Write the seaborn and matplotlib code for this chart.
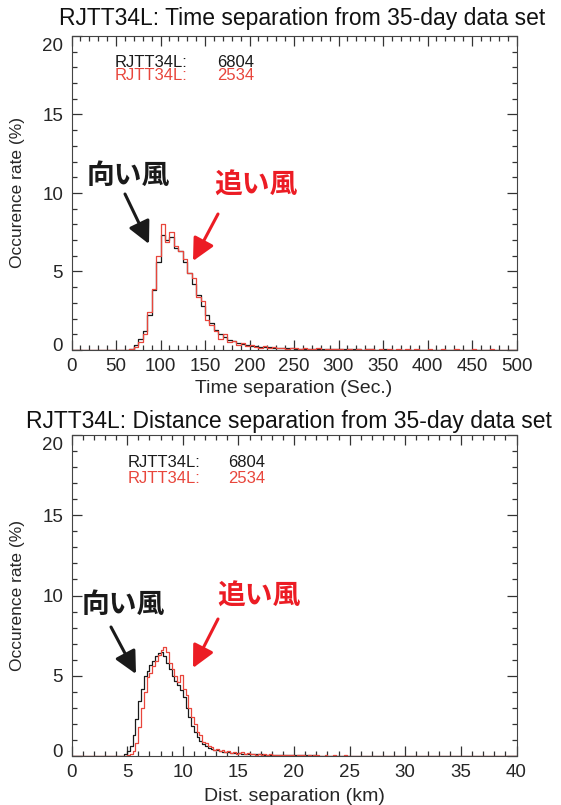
import numpy as np
import pandas as pd
import matplotlib
matplotlib.use("Agg")
import matplotlib.pyplot as plt
from matplotlib.ticker import MultipleLocator
from matplotlib.transforms import ScaledTranslation
import seaborn as sns

# ---- data (occurrence rate in %, per bin) ----
time_bin = 5.0      # sec
dist_bin = 0.25     # km

time_black = np.array(
    [0.0] * 12 +
    [0.02, 0.08, 0.3, 0.7, 1.2, 2.2, 3.8, 5.6, 7.3, 7.0,
     7.2, 6.5, 6.3, 5.6, 4.9, 4.2, 3.5, 2.8, 2.2, 1.7,
     1.3, 1.0, 0.8, 0.65, 0.55, 0.45, 0.38, 0.32, 0.28, 0.24,
     0.21, 0.18, 0.16, 0.14, 0.13, 0.12, 0.11, 0.10] +
    [0.09, 0.08, 0.08, 0.07, 0.07, 0.06, 0.06, 0.06, 0.05, 0.05] +
    [0.05, 0.04, 0.05, 0.04, 0.04, 0.03, 0.04, 0.04, 0.03, 0.03,
     0.04, 0.03, 0.03, 0.02, 0.03, 0.03, 0.02, 0.03, 0.02, 0.02,
     0.03, 0.02, 0.02, 0.02, 0.03, 0.02, 0.02, 0.01, 0.02, 0.02,
     0.02, 0.01, 0.02, 0.01, 0.02, 0.01, 0.01, 0.02, 0.01, 0.01])

time_red = np.array(
    [0.0] * 12 +
    [0.0, 0.05, 0.2, 0.5, 1.0, 2.4, 3.9, 6.0, 8.0, 6.9,
     7.5, 6.6, 6.3, 5.8, 4.9, 4.6, 3.4, 3.1, 1.9, 1.6,
     1.2, 0.7, 1.0, 0.5, 0.6, 0.35, 0.45, 0.25, 0.35, 0.2,
     0.15, 0.25, 0.1, 0.2, 0.1, 0.15, 0.05, 0.12] +
    [0.1, 0.05, 0.12, 0.04, 0.08, 0.1, 0.03, 0.06, 0.08, 0.04] +
    [0.06, 0.02, 0.07, 0.03, 0.05, 0.02, 0.06, 0.04, 0.02, 0.05,
     0.03, 0.06, 0.02, 0.04, 0.03, 0.05, 0.01, 0.04, 0.03, 0.02,
     0.05, 0.02, 0.03, 0.04, 0.01, 0.03, 0.05, 0.02, 0.03, 0.01,
     0.04, 0.02, 0.03, 0.01, 0.04, 0.02, 0.01, 0.03, 0.02, 0.02])

dist_black = np.array(
    [0.0] * 18 +
    [0.02, 0.1, 0.3, 0.6, 1.3, 2.3, 3.4, 4.2, 5.0, 5.3,
     5.7, 5.9, 6.2, 6.4, 6.5, 6.2, 5.8, 5.4, 5.0, 4.7,
     4.4, 4.1, 3.7, 3.0, 2.4, 1.9, 1.5, 1.2, 0.95, 0.75,
     0.6, 0.5, 0.45, 0.4, 0.35, 0.3, 0.28, 0.25, 0.22, 0.2,
     0.18, 0.17, 0.16] +
    [0.15, 0.14, 0.13, 0.12, 0.12, 0.11, 0.10, 0.10, 0.09, 0.09,
     0.08, 0.08, 0.07, 0.07, 0.07, 0.06, 0.06, 0.06, 0.05, 0.05,
     0.05, 0.05, 0.04, 0.04, 0.04, 0.04, 0.04, 0.03, 0.03, 0.03,
     0.03, 0.03, 0.03, 0.03, 0.02, 0.03, 0.02, 0.02, 0.02, 0.02,
     0.02, 0.02, 0.02, 0.02, 0.02, 0.01, 0.02, 0.02, 0.01, 0.02,
     0.01, 0.02, 0.01, 0.01, 0.02, 0.01, 0.01, 0.01, 0.02, 0.01,
     0.01, 0.01, 0.01, 0.02, 0.01, 0.01, 0.01, 0.01, 0.01, 0.01,
     0.01, 0.01, 0.01, 0.01, 0.01, 0.01, 0.01, 0.01, 0.01, 0.01,
     0.01, 0.01, 0.01, 0.01, 0.01, 0.01, 0.01, 0.01, 0.01, 0.01,
     0.01, 0.01, 0.01, 0.01, 0.01, 0.01, 0.01, 0.01, 0.01])

dist_red = np.array(
    [0.0] * 19 +
    [0.02, 0.05, 0.1, 0.3, 0.8, 1.8, 3.0, 4.0, 4.9, 5.2,
     5.6, 5.9, 6.3, 6.6, 6.8, 6.5, 5.8, 5.4, 5.0, 4.6,
     5.05, 4.2, 3.8, 3.0, 2.4, 2.0, 1.5, 1.3, 0.9, 0.8,
     0.6, 0.55, 0.4, 0.45, 0.3, 0.35, 0.25, 0.3, 0.2, 0.25,
     0.15, 0.2] +
    [0.25, 0.12, 0.18, 0.1, 0.15, 0.08, 0.14, 0.09, 0.12, 0.06,
     0.1, 0.07, 0.09, 0.05, 0.08, 0.06, 0.04, 0.07, 0.05, 0.03,
     0.06, 0.04, 0.05, 0.03, 0.05, 0.02, 0.04, 0.05, 0.02, 0.03,
     0.04, 0.02, 0.03, 0.04, 0.01, 0.03, 0.02, 0.04, 0.02, 0.01,
     0.03, 0.02, 0.03, 0.01, 0.02, 0.03, 0.01, 0.02, 0.03, 0.01,
     0.02, 0.01, 0.03, 0.02, 0.01, 0.02, 0.03, 0.01, 0.02, 0.01,
     0.02, 0.01, 0.02, 0.01, 0.03, 0.01, 0.02, 0.01, 0.01, 0.02,
     0.01, 0.02, 0.01, 0.01, 0.02, 0.01, 0.01, 0.02, 0.01, 0.01,
     0.02, 0.01, 0.01, 0.01, 0.02, 0.01, 0.01, 0.01, 0.01, 0.02,
     0.01, 0.01, 0.01, 0.01, 0.01, 0.02, 0.01, 0.01, 0.01])

counts = [6804, 2534]
runway = "RJTT34L:"
titles = ["RJTT34L: Time separation from 35-day data set",
          "RJTT34L: Distance separation from 35-day data set"]
xlabels = ["Time separation (Sec.)", "Dist. separation (km)"]
ylabel = "Occurence rate (%)"
headwind = "向い風"
tailwind = "追い風"

BLACK = "#1a1a1a"
RED = "#e8463c"
RED_NOTE = "#ec1c24"

sns.set_style("white")
plt.rcParams['font.family'] = ['Liberation Sans', 'Noto Sans CJK JP']

W, H = 561, 805
fig = plt.figure(figsize=(W / 100, H / 100), dpi=100)


def fx(px):
    return px / W


def fy(py):
    return 1 - py / H


def draw_panel(ax, values, binw, xmax, major, minor):
    edges = np.arange(0, xmax + binw / 2, binw)
    centers = edges[:-1] + binw / 2
    for vals, col in zip(values, [BLACK, RED]):
        df = pd.DataFrame({"x": centers, "w": vals})
        sns.histplot(data=df, x="x", weights="w", bins=list(edges), element="step",
                     fill=False, color=col, linewidth=0.9, ax=ax)
    ax.set_xlim(0, xmax)
    ax.set_ylim(0, 20)
    ax.xaxis.set_major_locator(MultipleLocator(major))
    ax.xaxis.set_minor_locator(MultipleLocator(minor))
    ax.yaxis.set_major_locator(MultipleLocator(5))
    ax.yaxis.set_minor_locator(MultipleLocator(1))
    ax.tick_params(which="both", direction="in", bottom=True, left=True,
                   top=True, right=True, color="#333333", labelsize=13.5,
                   width=0.9)
    ax.tick_params(which="major", length=7, pad=6)
    ax.tick_params(which="minor", length=3.5)
    for s in ax.spines.values():
        s.set_color("#444444")
        s.set_linewidth(0.8)
    # IDL-like nudging of the end labels inward
    for val, tick in zip(ax.get_yticks(), ax.yaxis.get_major_ticks()):
        if val == 20:
            dy = -6 / 72
        elif val == 0:
            dy = 4 / 72
        else:
            continue
        tick.label1.set_transform(tick.label1.get_transform() +
                                  ScaledTranslation(0, dy, fig.dpi_scale_trans))


# top panel: time separation
ax1 = fig.add_axes([fx(71.5), fy(350), fx(445), 314 / H])
draw_panel(ax1, [time_black, time_red], time_bin, 500, 50, 10)
ax1.set_xlabel(xlabels[0], fontsize=14)
ax1.set_ylabel(ylabel, fontsize=12.5)
ax1.xaxis.set_label_coords(0.5, -0.095)
ax1.yaxis.set_label_coords(-0.105, 0.5)
ax1.text(0.098, 0.917, runway, transform=ax1.transAxes, color=BLACK, fontsize=12, va="center")
ax1.text(0.327, 0.917, str(counts[0]), transform=ax1.transAxes, color=BLACK, fontsize=12, va="center")
ax1.text(0.098, 0.873, runway, transform=ax1.transAxes, color=RED, fontsize=12, va="center")
ax1.text(0.327, 0.873, str(counts[1]), transform=ax1.transAxes, color=RED, fontsize=12, va="center")

# bottom panel: distance separation
ax2 = fig.add_axes([fx(71.5), fy(756), fx(445), 321 / H])
draw_panel(ax2, [dist_black, dist_red], dist_bin, 40, 5, 1)
ax2.set_xlabel(xlabels[1], fontsize=14)
ax2.set_ylabel(ylabel, fontsize=12.5)
ax2.xaxis.set_label_coords(0.5, -0.1)
ax2.yaxis.set_label_coords(-0.105, 0.5)
ax2.text(0.127, 0.913, runway, transform=ax2.transAxes, color=BLACK, fontsize=12, va="center")
ax2.text(0.352, 0.913, str(counts[0]), transform=ax2.transAxes, color=BLACK, fontsize=12, va="center")
ax2.text(0.127, 0.863, runway, transform=ax2.transAxes, color=RED, fontsize=12, va="center")
ax2.text(0.352, 0.863, str(counts[1]), transform=ax2.transAxes, color=RED, fontsize=12, va="center")

# titles
fig.text(fx(302), fy(18), titles[0], ha="center", va="center", fontsize=16.5, color="#111111")
fig.text(fx(289), fy(421), titles[1], ha="center", va="center", fontsize=16.5, color="#111111")

# wind annotations
jp = ['Noto Sans CJK JP']
for (tx, ty, ax0, ay0, ax1_, ay1_, label, col) in [
        (128, 176, 125, 194, 149, 244, headwind, BLACK),
        (256, 186, 218, 214, 193, 261, tailwind, RED_NOTE),
        (123, 605, 111, 627, 136, 674, headwind, BLACK),
        (259, 597, 218, 619, 193, 668, tailwind, RED_NOTE)]:
    fig.text(fx(tx), fy(ty), label, ha="center", va="center", fontsize=20,
             fontweight="bold", color=col, family=jp)
    fig.add_artist(matplotlib.patches.FancyArrowPatch(
        (fx(ax0), fy(ay0)), (fx(ax1_), fy(ay1_)), transform=fig.transFigure,
        arrowstyle="-|>,head_length=0.9,head_width=0.45", mutation_scale=15,
        color=col, linewidth=2.2, shrinkA=0, shrinkB=0))

fig.savefig("out.png", dpi=100)
